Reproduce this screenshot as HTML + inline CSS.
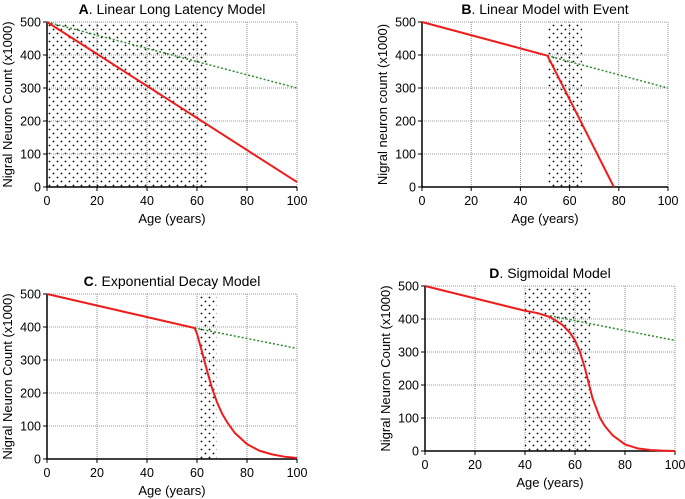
<!DOCTYPE html>
<html><head><meta charset="utf-8"><style>
body{margin:0;background:#fff;}
svg{display:block;font-family:"Liberation Sans",Arial,sans-serif;}
</style></head><body>
<svg id="fig" width="685" height="499" viewBox="0 0 685 499">
<defs>
<pattern id="dots" width="8" height="8" patternUnits="userSpaceOnUse">
<rect width="8" height="8" fill="#fff"/>
<circle cx="1.5" cy="1.5" r="0.9" fill="#000"/>
<circle cx="5.5" cy="5.5" r="0.9" fill="#000"/>
</pattern>
</defs>
</svg>
<script>
const xTicks=[0,20,40,60,80,100];
const yTicks=[0,100,200,300,400,500];
// Panel A
const aRedX=[0,100], aRedY=[500,15];
const aGreenX=[0,100], aGreenY=[500,300];
const aShade=[0,64];
// Panel B
const bRedX=[0,51,78], bRedY=[500,398,0];
const bGreenX=[51,100], bGreenY=[398,300];
const bShade=[51,65];
// Panel C
const cRedX=[0,59,60,62,64,66,68,70,72,75,80,85,90,95,100];
const cRedY=[500,397,380,325,268,215,172,138,112,80,45,25,14,7,3];
const cGreenX=[59,100], cGreenY=[397,335];
const cShade=[61,68];
// Panel D
const dRedX=[0,40,45,50,55,58,60,62,64,65,66,67,68,70,72,75,80,85,90,95,100];
const dRedY=[500,425,418,406,382,358,335,300,250,220,190,160,140,100,75,48,20,8,3,1,0];
const dGreenX=[50,100], dGreenY=[410,335];
const dShade=[40,66];

const panels=[
 {id:'a',letter:'A',title:'. Linear Long Latency Model',ylab:'Nigral Neuron Count (x1000)',x0:47,x1:297,yt:22,yb:187,red:[aRedX,aRedY],green:[aGreenX,aGreenY],shade:aShade},
 {id:'b',letter:'B',title:'. Linear Model with Event',ylab:'Nigral neuron count (x1000)',x0:422,x1:668,yt:22,yb:187,red:[bRedX,bRedY],green:[bGreenX,bGreenY],shade:bShade},
 {id:'c',letter:'C',title:'. Exponential Decay Model',ylab:'Nigral Neuron Count (x1000)',x0:47,x1:297,yt:294,yb:459,red:[cRedX,cRedY],green:[cGreenX,cGreenY],shade:cShade},
 {id:'d',letter:'D',title:'. Sigmoidal Model',ylab:'Nigral Neuron Count (x1000)',x0:425,x1:675,yt:286,yb:451,red:[dRedX,dRedY],green:[dGreenX,dGreenY],shade:dShade}
];
const NS='http://www.w3.org/2000/svg';
const svg=document.getElementById('fig');
function mk(tag,attrs,parent){const e=document.createElementNS(NS,tag);for(const k in attrs)e.setAttribute(k,attrs[k]);parent.appendChild(e);return e;}
panels.forEach(p=>{
 const g=mk('g',{},svg);
 
 
 const sx=v=>p.x0+(p.x1-p.x0)*v/100;
 const sy=v=>p.yb-(p.yb-p.yt)*v/500;
 const sh=mk('rect',{x:sx(p.shade[0]),y:p.yt,width:sx(p.shade[1])-sx(p.shade[0]),height:p.yb-p.yt,fill:'url(#dots)'},g);
 
 
 yTicks.forEach(t=>{if(t>0){const l=mk('line',{x1:p.x0,x2:p.x1,y1:sy(t),y2:sy(t),stroke:'#777','stroke-width':0.8,'stroke-dasharray':'1,1'},g);
  }});
 xTicks.forEach(t=>{if(t>0){const l=mk('line',{x1:sx(t),x2:sx(t),y1:p.yt,y2:p.yb,stroke:'#777','stroke-width':0.8,'stroke-dasharray':'1,1'},g);
  }});
 const ax=mk('path',{d:`M${p.x0},${p.yt} V${p.yb} H${p.x1}`,fill:'none',stroke:'#000','stroke-width':1.5},g);
 
 xTicks.forEach(t=>{
  mk('line',{x1:sx(t),x2:sx(t),y1:p.yb,y2:p.yb+4,stroke:'#000'},g);
  const tx=mk('text',{x:sx(t),y:p.yb+18,'font-size':12.5,'text-anchor':'middle'},g);tx.textContent=t;
  
 });
 yTicks.forEach(t=>{
  mk('line',{x1:p.x0-4,x2:p.x0,y1:sy(t),y2:sy(t),stroke:'#000'},g);
  const tx=mk('text',{x:p.x0-6,y:sy(t)+4.5,'font-size':12.5,'text-anchor':'end'},g);tx.textContent=t;
  
 });
 const gp=p.green[0].map((x,i)=>sx(x)+','+sy(p.green[1][i])).join(' ');
 const gl=mk('polyline',{points:gp,fill:'none',stroke:'#2e8b2e','stroke-width':1.5,'stroke-dasharray':'2,2'},g);
 
 const rp=p.red[0].map((x,i)=>sx(x)+','+sy(p.red[1][i])).join(' ');
 const rl=mk('polyline',{points:rp,fill:'none',stroke:'#ee1c1c','stroke-width':2,'stroke-linejoin':'round'},g);
 
 const tt=mk('text',{x:(p.x0+p.x1)/2,y:p.yt-8,'font-size':14,'text-anchor':'middle'},g);
 tt.innerHTML='<tspan font-weight="bold">'+p.letter+'</tspan>'+p.title;
 
 const xl=mk('text',{x:(p.x0+p.x1)/2,y:p.yb+36,'font-size':13,'text-anchor':'middle'},g);xl.textContent='Age (years)';
 
 const cy=(p.yt+p.yb)/2, cx=p.x0-35;
 const yl=mk('text',{x:cx,y:cy,'font-size':13,'text-anchor':'middle',transform:`rotate(-90 ${cx} ${cy})`},g);yl.textContent=p.ylab;
 
});
</script>
</body></html>
